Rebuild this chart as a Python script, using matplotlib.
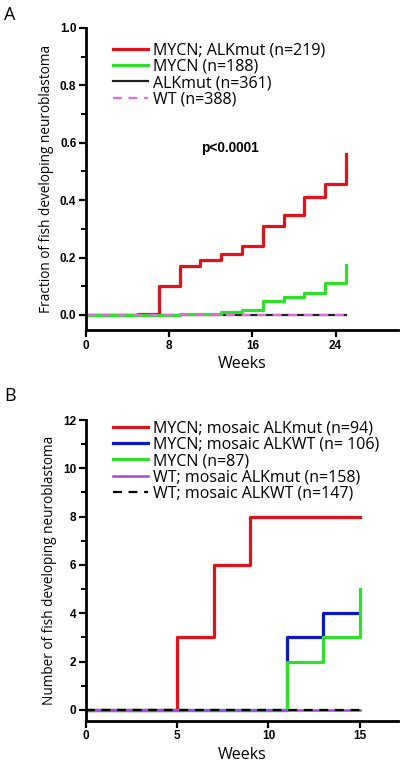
import matplotlib

matplotlib.use("Agg")
import matplotlib.pyplot as plt
from matplotlib.ticker import MultipleLocator

# panel A: fraction developing neuroblastoma (step curves)
a_red_t = [0, 5, 7, 9, 11, 13, 15, 17, 19, 21, 23, 25]
a_red_y = [0, 0.005, 0.10, 0.17, 0.19, 0.214, 0.242, 0.31, 0.35, 0.412, 0.458, 0.561]
a_green_t = [0, 9, 13, 15, 17, 19, 21, 23, 25]
a_green_y = [0, 0.005, 0.01, 0.018, 0.049, 0.064, 0.076, 0.111, 0.175]
a_flat_t = [0, 25]
a_flat_y = [0, 0]
a_labels = ["MYCN; ALKmut (n=219)", "MYCN (n=188)", "ALKmut (n=361)", "WT (n=388)"]

# panel B: number developing neuroblastoma
b_red_t = [0, 5, 7, 9, 15]
b_red_y = [0, 3, 6, 8, 8]
b_blue_t = [0, 11, 13, 15]
b_blue_y = [0, 3, 4, 4]
b_green_t = [0, 11, 13, 15]
b_green_y = [0, 2, 3, 5]
b_flat_t = [0, 15]
b_flat_y = [0, 0]
b_labels = ["MYCN; mosaic ALKmut (n=94)", "MYCN; mosaic ALKWT (n= 106)",
            "MYCN (n=87)", "WT; mosaic ALKmut (n=158)", "WT; mosaic ALKWT (n=147)"]

RED = "#e2121b"
GREEN = "#2ee02a"
BLUE = "#0a17cc"
PURPLE = "#a247dc"
MAGENTA = "#e36be0"

TXT = "Open Sans"
TICK = "Liberation Sans"


def style(ax):
    for s in ("top", "right"):
        ax.spines[s].set_visible(False)
    for s in ("left", "bottom"):
        ax.spines[s].set_linewidth(2.0)
    ax.tick_params(which="major", length=5, width=1.6, direction="out", pad=2)
    ax.tick_params(which="minor", length=3.5, width=1.4, direction="out")
    ax.tick_params(axis="x", which="minor", length=0)
    for lab in ax.get_xticklabels() + ax.get_yticklabels():
        lab.set_fontfamily(TICK)
        lab.set_fontweight("bold")
        lab.set_fontsize(8.5)


fig = plt.figure(figsize=(4.0, 7.69), dpi=100)

# ---- A ----
axA = fig.add_axes([0.215, 0.571, 0.78, 0.3927])
axA.step(a_red_t, a_red_y, where="post", color=RED, lw=2.3, label=a_labels[0])
axA.step(a_flat_t, a_flat_y, where="post", color="#222222", lw=1.6, label=a_labels[2])
axA.step(a_green_t, a_green_y, where="post", color=GREEN, lw=2.3, label=a_labels[1])
axA.step(a_flat_t, a_flat_y, where="post", color=MAGENTA, lw=1.6,
         dashes=(4, 3), label=a_labels[3])
axA.set_xlim(0, 30)
axA.set_ylim(-0.052, 1.0)
axA.set_xticks([0, 8, 16, 24])
axA.set_yticks([0, 0.2, 0.4, 0.6, 0.8, 1.0])
axA.yaxis.set_minor_locator(MultipleLocator(0.1))
axA.yaxis.set_major_formatter(matplotlib.ticker.FormatStrFormatter("%.1f"))
style(axA)
axA.set_xlabel("Weeks", fontfamily=TXT, fontsize=11.5, labelpad=3)
axA.set_ylabel("Fraction of fish developing neuroblastoma", fontfamily=TXT,
               fontsize=9.8, labelpad=4)
axA.text(13.85, 0.58, "p<0.0001", fontfamily=TICK, fontweight="bold",
         fontsize=9.8, ha="center", va="center")
h, l = axA.get_legend_handles_labels()
order = [0, 2, 1, 3]
axA.legend([h[i] for i in order], [l[i] for i in order], loc="upper left",
           bbox_to_anchor=(0.05, 0.99), frameon=False, handlelength=2.2,
           handletextpad=0.3, labelspacing=0.03, borderpad=0.2,
           prop={"family": TXT, "size": 11.5})
fig.text(0.01, 0.992, "A", fontfamily=TXT, fontsize=13, va="top", ha="left")

# ---- B ----
axB = fig.add_axes([0.215, 0.0628, 0.78, 0.391])
axB.step(b_red_t, b_red_y, where="post", color=RED, lw=2.3, label=b_labels[0])
axB.step(b_blue_t, b_blue_y, where="post", color=BLUE, lw=2.3, label=b_labels[1])
axB.step(b_green_t, b_green_y, where="post", color=GREEN, lw=2.3, label=b_labels[2])
axB.step(b_flat_t, b_flat_y, where="post", color=PURPLE, lw=1.8, label=b_labels[3])
axB.step(b_flat_t, b_flat_y, where="post", color="black", lw=1.6,
         dashes=(4, 3), label=b_labels[4])
axB.set_xlim(0, 17.1)
axB.set_ylim(-0.45, 12)
axB.set_xticks([0, 5, 10, 15])
axB.set_yticks([0, 2, 4, 6, 8, 10, 12])
axB.yaxis.set_minor_locator(MultipleLocator(1))
style(axB)
axB.set_xlabel("Weeks", fontfamily=TXT, fontsize=11.5, labelpad=3)
axB.set_ylabel("Number of fish developing neuroblastoma", fontfamily=TXT,
               fontsize=9.8, labelpad=4)
axB.legend(loc="upper left", bbox_to_anchor=(0.05, 1.035), frameon=False,
           handlelength=2.2, handletextpad=0.3, labelspacing=0.01, borderpad=0.2,
           prop={"family": TXT, "size": 11.5})
fig.text(0.01, 0.497, "B", fontfamily=TXT, fontsize=13, va="top", ha="left")

fig.savefig("out.png", dpi=100)
